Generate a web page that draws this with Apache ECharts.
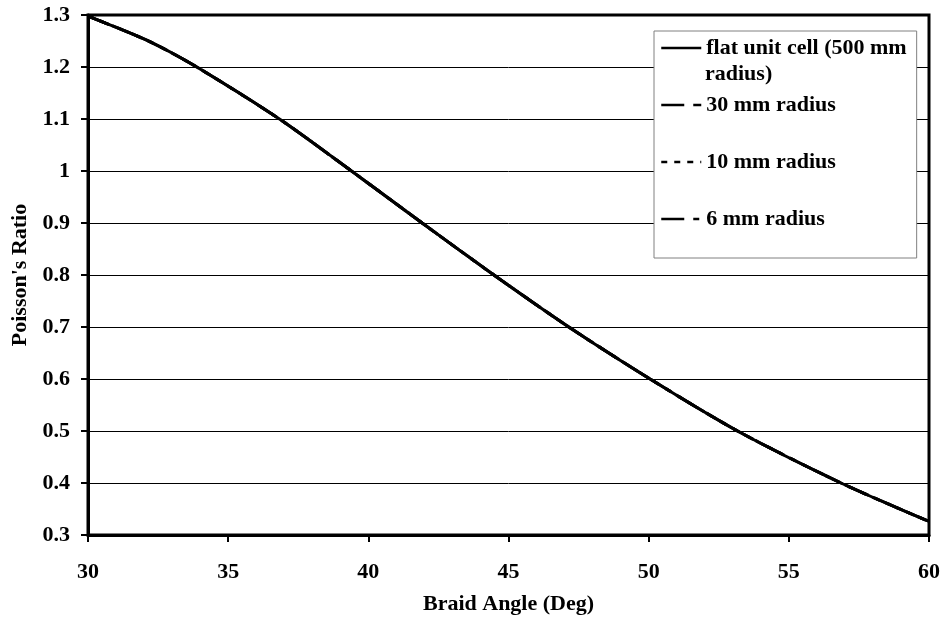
<!DOCTYPE html>
<html>
<head>
<meta charset="utf-8">
<script src="https://cdn.jsdelivr.net/npm/echarts@6/dist/echarts.min.js"></script>
<style>
  html, body { margin: 0; padding: 0; background: #fff; }
  #chart { width: 943px; height: 622px; }
</style>
</head>
<body>
<div id="chart"></div>
<script>
// Braid angle (deg) and Poisson's ratio
const angles500 = [30, 32.2, 33.88, 36.83, 39.4, 41.92, 44.48, 47.15, 50.05, 53.17, 56.86, 60];
const ratio500  = [1.298, 1.249, 1.2, 1.1, 1.0, 0.9, 0.8, 0.7, 0.6, 0.5, 0.4, 0.326];
const angles30 = [30, 32.2, 33.88, 36.83, 39.4, 41.92, 44.48, 47.15, 50.05, 53.17, 56.86, 60];
const ratio30  = [1.298, 1.249, 1.2, 1.1, 1.0, 0.9, 0.8, 0.7, 0.6, 0.5, 0.4, 0.326];
const angles10 = [30, 32.2, 33.88, 36.83, 39.4, 41.92, 44.48, 47.15, 50.05, 53.17, 56.86, 60];
const ratio10  = [1.298, 1.249, 1.2, 1.1, 1.0, 0.9, 0.8, 0.7, 0.6, 0.5, 0.4, 0.326];
const angles6 = [30, 32.2, 33.88, 36.83, 39.4, 41.92, 44.48, 47.15, 50.05, 53.17, 56.86, 60];
const ratio6  = [1.298, 1.249, 1.2, 1.1, 1.0, 0.9, 0.8, 0.7, 0.6, 0.5, 0.4, 0.326];

const seriesNames = ['flat unit cell (500 mm radius)', '30 mm radius', '10 mm radius', '6 mm radius'];
const legendFirstLine = 'flat unit cell (500 mm';
const legendSecondLine = 'radius)';
const xTitle = 'Braid Angle (Deg)';
const yTitle = "Poisson's Ratio";

const FONT = "'Liberation Serif', 'Times New Roman', serif";

function pairs(xs, ys) { return xs.map((x, i) => [x, ys[i]]); }

const dashes = ['solid', [23, 9], [6, 7], [23, 9, 6, 9]];
const allData = [pairs(angles500, ratio500), pairs(angles30, ratio30), pairs(angles10, ratio10), pairs(angles6, ratio6)];

const chart = echarts.init(document.getElementById('chart'), null, { renderer: 'canvas' });

const series = seriesNames.map((name, i) => ({
  name: name,
  type: 'line',
  data: allData[i],
  smooth: 0.25,
  symbol: 'none',
  lineStyle: { color: '#000', width: 3, type: dashes[i] },
  itemStyle: { color: '#000' },
  z: 10 - i
}));

chart.setOption({
  backgroundColor: '#fff',
  animation: false,
  grid: {
    left: 88, right: 14, top: 15, bottom: 87,
    show: true, borderColor: '#000', borderWidth: 3, backgroundColor: 'transparent'
  },
  xAxis: {
    type: 'value', min: 30, max: 60, interval: 5,
    name: xTitle, nameLocation: 'middle', nameGap: 58,
    nameTextStyle: { fontFamily: FONT, fontWeight: 'bold', fontSize: 22, color: '#000' },
    axisLine: { show: true, lineStyle: { color: '#000', width: 3 } },
    axisTick: { show: true, inside: false, length: 7, lineStyle: { color: '#000', width: 2 } },
    axisLabel: { fontFamily: FONT, fontWeight: 'bold', fontSize: 22, color: '#000', margin: 26 },
    splitLine: { show: false }
  },
  yAxis: {
    type: 'value', min: 0.3, max: 1.3, interval: 0.1,
    name: yTitle, nameLocation: 'middle', nameGap: 56,
    nameTextStyle: { fontFamily: FONT, fontWeight: 'bold', fontSize: 22, color: '#000' },
    axisLine: { show: true, lineStyle: { color: '#000', width: 3 } },
    axisTick: { show: true, inside: false, length: 7, lineStyle: { color: '#000', width: 2 } },
    axisLabel: { fontFamily: FONT, fontWeight: 'bold', fontSize: 22, color: '#000', margin: 18,
      formatter: v => String(Math.round(v * 10) / 10) },
    splitLine: { show: true, lineStyle: { color: '#000', width: 1 } }
  },
  legend: {
    orient: 'vertical',
    left: 654, top: 31,
    padding: [5, 10, 27, 6],
    itemWidth: 40, itemHeight: 14, itemGap: 33,
    backgroundColor: '#fff',
    borderColor: '#808080', borderWidth: 1, borderRadius: 0,
    lineStyle: { width: 2.5 },
    itemStyle: { color: 'rgba(0,0,0,0)', borderColor: 'rgba(0,0,0,0)', borderWidth: 0 },
    data: seriesNames,
    formatter: n => n === seriesNames[0] ? legendFirstLine : n,
    textStyle: { fontFamily: FONT, fontWeight: 'bold', fontSize: 22, color: '#000', lineHeight: 24 }
  },
  graphic: [{
    type: 'text', left: 705, top: 63, z: 100,
    style: { text: legendSecondLine, font: "bold 22px 'Liberation Serif', serif", fill: '#000' }
  }],
  series: series
});
</script>
</body>
</html>
